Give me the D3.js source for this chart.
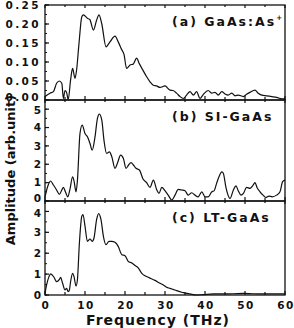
<!DOCTYPE html>
<html>
<head>
<meta charset="utf-8">
<script src="https://cdn.jsdelivr.net/npm/d3@7"></script>
<style>
  body { margin: 0; background: #fff; }
  svg { display: block; }
  text { font-family: "DejaVu Sans", sans-serif; font-weight: bold; fill: #111; }
</style>
</head>
<body>
<svg width="294" height="328"></svg>
<script>
// frequency axis
const freqTicks = [0, 10, 20, 30, 40, 50, 60]

// (a) GaAs:As+
const freqA = [0, 1.25, 2.1, 2.9, 3.6, 4.2, 4.6, 5, 5.4, 5.8, 6.4, 6.9, 7.5, 7.9, 8.5, 9.2, 9.6, 10.6, 11.2, 12.1, 12.9, 13.5, 14.2, 15.25, 16.25, 17.5, 18.3, 19.2, 19.75, 20.4, 21.25, 22.1, 22.9, 23.6, 24.4, 25.3, 26.25, 27.1, 27.9, 28.75, 30, 31.25, 32, 32.9, 33.75, 34.6, 35.4, 36.25, 37.1, 37.9, 38.75, 39.6, 40.8, 41.7, 42.5, 43.3, 44.2, 45, 45.8, 46.7, 47.5, 48.3, 49.6, 50.4, 51.25, 52.5, 53.3, 54.2, 55.4, 56.7, 57.9, 59.2, 60]
const ampA = [0.009, 0.018, 0.022, 0.044, 0.05, 0.044, 0.004, 0.025, 0.02, 0.001, 0.053, 0.083, 0.057, 0.079, 0.149, 0.219, 0.224, 0.215, 0.212, 0.184, 0.21, 0.224, 0.2, 0.14, 0.153, 0.168, 0.153, 0.132, 0.12, 0.083, 0.092, 0.095, 0.11, 0.095, 0.08, 0.063, 0.048, 0.039, 0.037, 0.033, 0.037, 0.026, 0.025, 0.018, 0.009, 0.004, 0.013, 0.022, 0.013, 0.022, 0.004, 0.015, 0.025, 0.018, 0.02, 0.013, 0.022, 0.016, 0.013, 0.018, 0.011, 0.013, 0.009, 0.015, 0.02, 0.026, 0.018, 0.013, 0.011, 0.009, 0.007, 0.003, 0.004]
const ticksA = [0, 0.05, 0.1, 0.15, 0.2, 0.25]

// (b) SI-GaAs
const freqB = [0, 0.8, 1.4, 2.1, 2.9, 3.6, 4.2, 4.6, 5.1, 5.7, 6.25, 6.9, 7.25, 7.75, 8.1, 8.75, 9.3, 10, 10.7, 11.25, 11.8, 12.5, 13.1, 13.6, 14.2, 14.75, 15.4, 16.1, 16.7, 17.5, 18.1, 18.9, 19.6, 20.25, 20.9, 21.5, 22.1, 22.75, 23.6, 24.5, 25.4, 26.25, 27.1, 27.9, 28.5, 29.2, 30, 30.8, 31.7, 32.5, 33.3, 34.2, 35, 35.8, 36.7, 37.5, 38.3, 39.2, 40, 40.8, 41.7, 42.25, 42.9, 43.5, 44.2, 44.6, 45.2, 45.75, 46.25, 47.1, 47.75, 48.3, 49, 49.6, 50.4, 51.25, 51.9, 52.5, 53, 53.75, 54.5, 55.2, 56, 56.8, 57.9, 58.75, 59.4, 60]
const ampB = [0.23, 0.87, 1.09, 0.87, 0.6, 0.36, 0.6, 0.74, 0.5, 0.23, 0.65, 1.32, 1.1, 0.5, 1.1, 3.68, 4.13, 3.68, 3.46, 3.13, 2.77, 3.49, 4.49, 4.73, 4.4, 3.3, 2.59, 2.68, 2.41, 1.78, 2.05, 2.5, 2.32, 1.78, 1.96, 2.09, 1.96, 1.78, 1.69, 1.2, 1.0, 0.74, 1.14, 0.63, 0.42, 0.74, 0.56, 0.32, 0.05, 0.32, 0.63, 0.6, 0.56, 0.32, 0.45, 0.32, 0.23, 0.5, 0.23, 0.23, 0.5, 0.55, 0.96, 1.32, 1.59, 1.5, 0.78, 0.32, 0.14, 0.6, 0.82, 0.56, 0.32, 0.41, 0.74, 0.69, 0.82, 1.0, 0.74, 0.5, 0.32, 0.19, 0.27, 0.23, 0.32, 0.5, 1.05, 1.14]
const ticksB = [0, 1, 2, 3, 4, 5]

// (c) LT-GaAs
const freqC = [0, 0.4, 1, 1.4, 2.25, 2.9, 3.6, 3.9, 4.4, 5, 5.4, 5.8, 6.1, 6.4, 6.9, 7.25, 7.75, 8.1, 8.6, 9.2, 9.5, 10, 10.6, 11.25, 11.8, 12.25, 12.9, 13.4, 14, 14.6, 15.25, 16, 16.7, 17.5, 18.3, 19.2, 20, 20.8, 21.7, 22.5, 23.3, 24.2, 25, 25.8, 26.6, 27.5, 28.75, 29.6, 30.4, 31.25, 32, 32.9, 33.75, 34.6, 36.25, 37.9, 39.6, 42.1, 44.6, 47.1, 49.6, 52, 54.6, 57, 60]
const ampC = [0.08, 0.48, 0.88, 1.01, 0.85, 0.64, 0.75, 0.85, 0.56, 0.24, 0.32, 0.16, 0.24, 0.64, 1.04, 0.88, 0.43, 0.72, 2.49, 3.77, 3.85, 3.3, 2.57, 2.68, 2.57, 2.73, 3.61, 3.9, 3.61, 2.81, 2.41, 2.57, 2.57, 2.52, 2.33, 1.93, 1.88, 1.61, 1.53, 1.41, 1.3, 1.04, 0.92, 0.85, 0.78, 0.7, 0.56, 0.48, 0.37, 0.32, 0.27, 0.21, 0.16, 0.11, 0.05, 0.0, 0.02, 0.05, 0.05, 0.06, 0.08, 0.06, 0.05, 0.05, 0.05]
const ticksC = [0, 1, 2, 3, 4]

const svg = d3.select('svg')
const left = 45
const right = 285

const x = d3.scaleLinear().domain([0, 60]).range([left, right])

const panels = [
  { freq: freqA, amp: ampA, ticks: ticksA, max: 0.25, top: 5, bottom: 100, fmt: d3.format('.2f'), minor: 0.025, spacing: 2.4, label: '(a) GaAs:As', sup: '+' },
  { freq: freqB, amp: ampB, ticks: ticksB, max: 5.5, top: 100, bottom: 201, fmt: d3.format('d'), minor: 0.5, spacing: 0, label: '(b) SI-GaAs' },
  { freq: freqC, amp: ampC, ticks: ticksC, max: 4.5, top: 201, bottom: 295, fmt: d3.format('d'), minor: 0.5, spacing: 0, label: '(c) LT-GaAs' }
]

const line = (xs, ys) => d3.line().x(d => xs(d[0])).y(d => ys(d[1])).curve(d3.curveMonotoneX)

panels.forEach((p, pi) => {
  const y = d3.scaleLinear().domain([0, p.max]).range([p.bottom, p.top])
  const g = svg.append('g')

  // frame
  g.append('rect')
    .attr('x', left).attr('y', p.top)
    .attr('width', right - left).attr('height', p.bottom - p.top)
    .attr('fill', 'none').attr('stroke', '#111').attr('stroke-width', 1.3)

  // x ticks, inward on bottom and top
  const xt = d3.range(0, 61, 5)
  g.selectAll('.xb').data(xt).enter().append('line')
    .attr('x1', d => x(d)).attr('x2', d => x(d))
    .attr('y1', p.bottom).attr('y2', d => p.bottom - (d % 10 === 0 ? 4 : 3))
    .attr('stroke', '#111').attr('stroke-width', 1.2)
  g.selectAll('.xt').data(xt).enter().append('line')
    .attr('x1', d => x(d)).attr('x2', d => x(d))
    .attr('y1', p.top).attr('y2', d => p.top + (d % 10 === 0 ? 3 : 2))
    .attr('stroke', '#111').attr('stroke-width', 1.2)

  // y ticks, inward on left
  const minors = d3.range(0, p.max + 1e-9, p.minor)
  g.selectAll('.ym').data(minors).enter().append('line')
    .attr('x1', left).attr('x2', left + 2)
    .attr('y1', d => y(d)).attr('y2', d => y(d))
    .attr('stroke', '#111').attr('stroke-width', 1)
  g.selectAll('.yM').data(p.ticks).enter().append('line')
    .attr('x1', left).attr('x2', left + 4)
    .attr('y1', d => y(d)).attr('y2', d => y(d))
    .attr('stroke', '#111').attr('stroke-width', 1.2)

  const lastTick = p.ticks[p.ticks.length - 1]
  g.selectAll('.yl').data(p.ticks).enter().append('text')
    .attr('x', 41)
    .attr('y', d => y(d) + (d === 0 && pi < 2 ? -2.5 : 0) + (d === lastTick && pi > 0 ? 1.5 : 0))
    .attr('dy', '0.36em')
    .attr('text-anchor', 'end')
    .attr('font-size', 10.5)
    .attr('letter-spacing', p.spacing)
    .text(d => p.fmt(d))

  // curve
  const pts = p.freq.map((f, i) => [f, p.amp[i]])
  g.append('path')
    .datum(pts)
    .attr('fill', 'none')
    .attr('stroke', '#111')
    .attr('stroke-width', 1.2)
    .attr('d', line(x, y))

  // panel label
  const t = g.append('text')
    .attr('x', 172).attr('y', p.top + 21)
    .attr('font-size', 12.5)
    .attr('letter-spacing', 2)
    .text(p.label)
  if (p.sup) {
    t.append('tspan').attr('dy', -6).attr('font-size', 7).attr('letter-spacing', 0).text(p.sup)
  }
})

// x tick labels
svg.selectAll('.xl').data(freqTicks).enter().append('text')
  .attr('x', d => x(d) + 1)
  .attr('y', 309)
  .attr('text-anchor', 'middle')
  .attr('font-size', 10.5)
  .attr('letter-spacing', 1.5)
  .text(d => d)

// axis titles
svg.append('text')
  .attr('x', 158).attr('y', 325)
  .attr('text-anchor', 'middle')
  .attr('font-size', 14)
  .attr('letter-spacing', 1)
  .text('Frequency (THz)')

svg.append('text')
  .attr('transform', 'translate(15,170) rotate(-90)')
  .attr('text-anchor', 'middle')
  .attr('font-size', 13)
  .text('Amplitude (arb.unit)')
</script>
</body>
</html>
